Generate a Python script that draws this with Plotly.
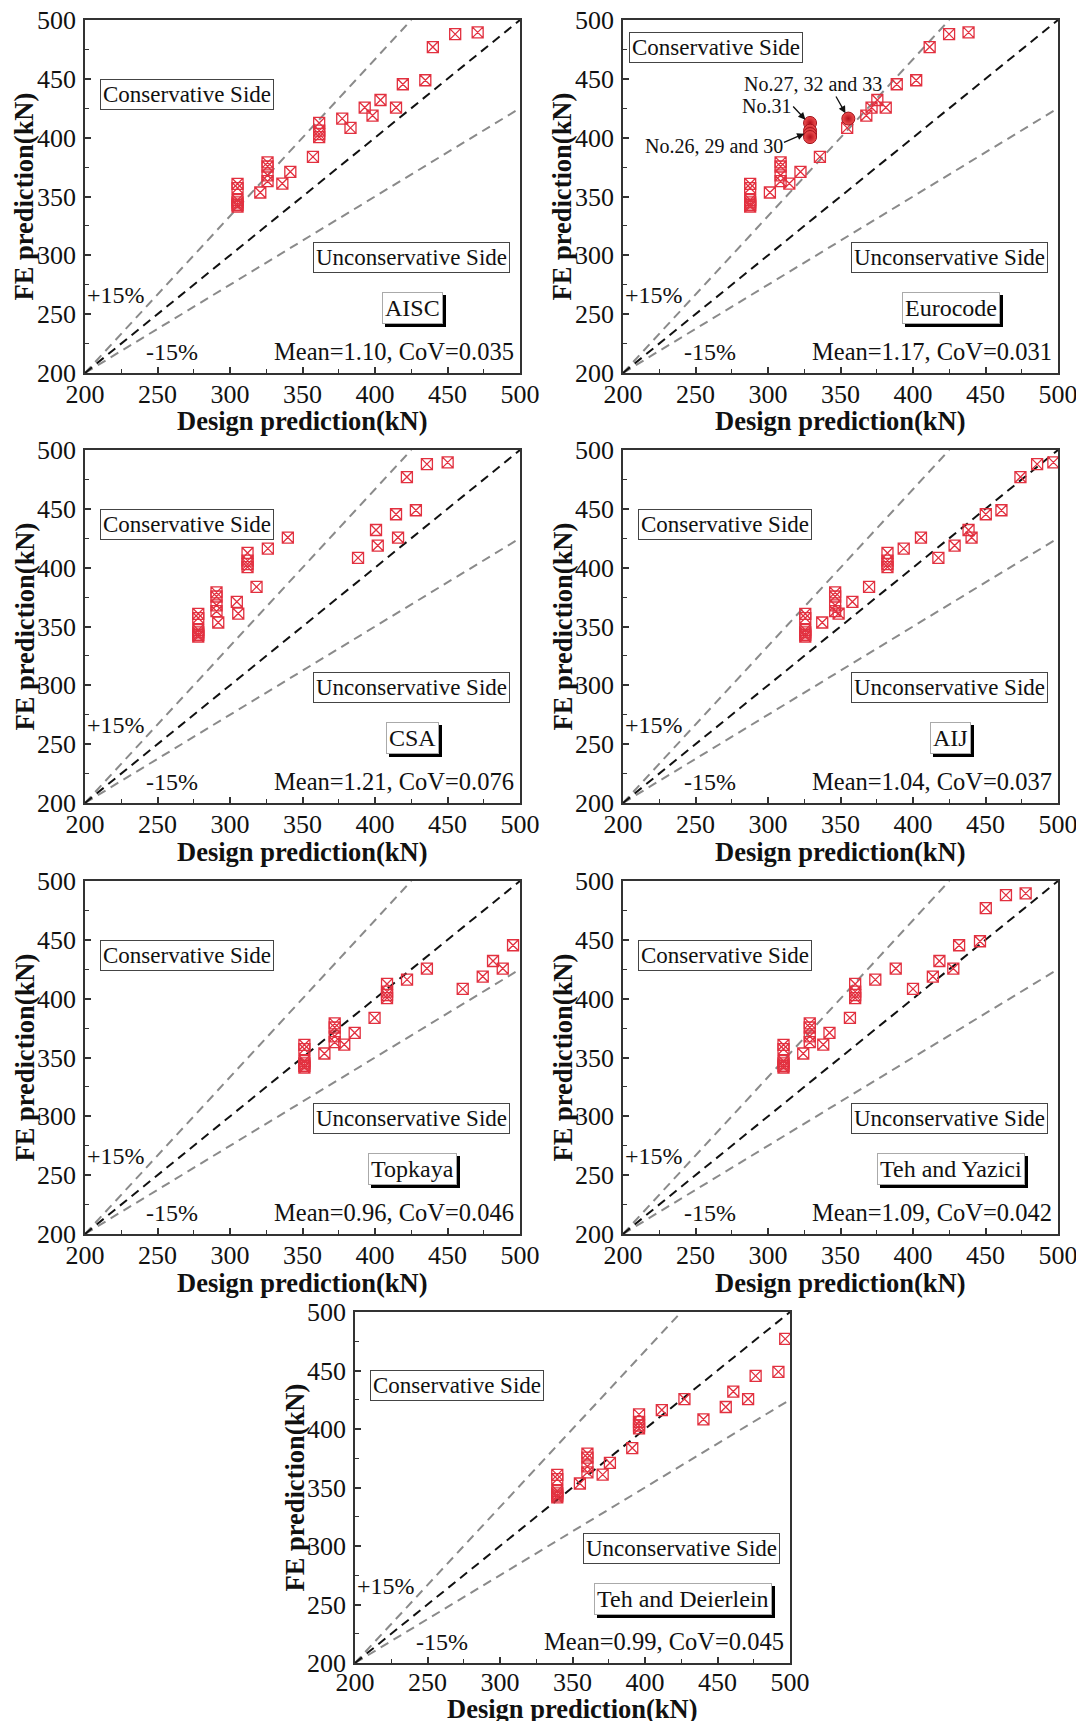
import plotly.graph_objects as go

PAGE_W, PAGE_H = 1084, 1729
BODY = 8  # default page margin around the figure
W, H = PAGE_W - 2 * BODY, PAGE_H - 2 * BODY
FONT = "Liberation Serif"

# ---------------- data ----------------
axis_ticks = [200, 250, 300, 350, 400, 450, 500]
x_title = "Design prediction(kN)"
y_title = "FE prediction(kN)"

# FE prediction (kN) of each specimen (shared by all panels)
fe_prediction = [489.5, 488.0, 477.0, 448.8, 445.4, 432.0, 425.6, 425.6, 418.8, 416.2,
                 408.3, 412.5, 406.0, 403.0, 400.5, 383.7, 371.0, 361.0, 353.4, 379.0,
                 375.5, 368.0, 363.0, 360.8, 357.2, 347.0, 345.0, 343.0, 341.5]

# design predictions (kN) per code (None = outside the plotted range)
aisc = [470.8, 455.3, 439.9, 434.7, 419.2, 403.8, 392.9, 414.5, 398.3, 377.4,
        383.1, 361.5, 361.5, 361.5, 361.5, 357.2, 341.6, 336.1, 320.9, 325.9,
        325.9, 325.9, 325.9, 305.2, 305.2, 305.2, 305.2, 305.2, 305.2]
eurocode = [438.3, 424.9, 411.5, 402.2, 388.8, 375.4, 371.4, 381.2, 367.8, 355.4,
            354.6, 329.0, 329.0, 329.0, 329.0, 335.8, 322.4, 314.7, 301.3, 308.7,
            308.7, 308.7, 308.7, 287.7, 287.7, 287.7, 287.7, 287.7, 287.7]
csa = [450.1, 435.8, 422.0, 428.2, 414.5, 400.7, 339.9, 415.9, 401.9, 326.1,
       388.3, 312.1, 312.1, 312.1, 312.1, 318.3, 304.7, 305.7, 291.9, 290.7,
       290.7, 290.7, 290.7, 278.1, 278.1, 278.1, 278.1, 278.1, 278.1]
aij = [496.8, 485.6, 474.1, 461.0, 450.2, 438.3, 405.5, 440.4, 428.7, 393.6,
       417.5, 382.4, 382.4, 382.4, 382.4, 369.7, 358.2, 348.7, 337.4, 346.3,
       346.3, 346.3, 346.3, 325.7, 325.7, 325.7, 325.7, 325.7, 325.7]
topkaya = [None, None, None, None, 495.2, 481.4, 435.8, 488.1, 474.3, 422.1,
           460.5, 408.3, 408.3, 408.3, 408.3, 399.7, 386.0, 378.8, 365.1, 372.2,
           372.2, 372.2, 372.2, 351.3, 351.3, 351.3, 351.3, 351.3, 351.3]
teh_yazici = [477.7, 464.1, 450.2, 446.2, 431.8, 418.2, 388.1, 427.8, 413.7, 374.0,
              400.0, 360.1, 360.1, 360.1, 360.1, 356.5, 342.4, 338.1, 324.3, 328.8,
              328.8, 328.8, 328.8, 310.7, 310.7, 310.7, 310.7, 310.7, 310.7]
teh_deierlein = [None, None, 496.7, 492.0, 476.3, 460.9, 427.2, 471.1, 455.7, 411.6,
                 440.3, 395.9, 395.9, 395.9, 395.9, 391.2, 375.8, 370.8, 355.1, 360.3,
                 360.3, 360.3, 360.3, 339.5, 339.5, 339.5, 339.5, 339.5, 339.5]

panel_names = ["AISC", "Eurocode", "CSA", "AIJ", "Topkaya", "Teh and Yazici", "Teh and Deierlein"]
panel_stats = ["Mean=1.10, CoV=0.035", "Mean=1.17, CoV=0.031", "Mean=1.21, CoV=0.076",
               "Mean=1.04, CoV=0.037", "Mean=0.96, CoV=0.046", "Mean=1.09, CoV=0.042",
               "Mean=0.99, CoV=0.045"]
panel_design = [aisc, eurocode, csa, aij, topkaya, teh_yazici, teh_deierlein]

# specimens highlighted in the Eurocode panel (No.27/32/33, No.31, No.26/29/30)
highlight_idx = [9, 11, 12, 13, 14]

# reference lines
equal_x, equal_y = [200, 500], [200, 500]
upper_x, upper_y = [200, 425], [200, 500]
lower_x, lower_y = [200, 500], [200, 425]

# ---------------- layout boxes (page px: left, right, top, bottom) ----------------
boxes = [(85, 520, 20, 373), (623, 1058, 20, 373),
         (85, 520, 450, 803), (623, 1058, 450, 803),
         (85, 520, 881, 1234), (623, 1058, 881, 1234),
         (355, 790, 1312, 1663)]


def px_x(px):
    return (px - BODY) / W


def px_y(py):
    return 1 - (py - BODY) / H


RED = "#E2303F"
fig = go.Figure()
annotations = []
layout_axes = {}


def boxed(text, x, y, xa, ya, size, shadow=False, border="#444"):
    out = []
    if shadow:
        out.append(dict(text=text, x=x, y=y, xref=xa, yref=ya, showarrow=False,
                        xanchor="center", yanchor="middle",
                        font=dict(family=FONT, size=size, color="black"),
                        bgcolor="black", bordercolor="black", borderwidth=1, borderpad=2,
                        xshift=3, yshift=-3))
    out.append(dict(text=text, x=x, y=y, xref=xa, yref=ya, showarrow=False,
                    xanchor="center", yanchor="middle",
                    font=dict(family=FONT, size=size, color="#111"),
                    bgcolor="white", bordercolor=border, borderwidth=1, borderpad=2))
    return out


for i, (name, stat, xs, (l, r, t, b)) in enumerate(zip(panel_names, panel_stats, panel_design, boxes), start=1):
    sfx = "" if i == 1 else str(i)
    xa, ya = "x" + sfx, "y" + sfx

    line_style = dict(width=2, dash="9px,6px")
    fig.add_trace(go.Scatter(x=upper_x, y=upper_y, mode="lines", xaxis=xa, yaxis=ya,
                             line=dict(color="#8a8a8a", **line_style), hoverinfo="skip"))
    fig.add_trace(go.Scatter(x=lower_x, y=lower_y, mode="lines", xaxis=xa, yaxis=ya,
                             line=dict(color="#8a8a8a", **line_style), hoverinfo="skip"))
    fig.add_trace(go.Scatter(x=equal_x, y=equal_y, mode="lines", xaxis=xa, yaxis=ya,
                             line=dict(color="#111111", **line_style), hoverinfo="skip"))

    if name == "Eurocode":
        sq_x = [v for k, v in enumerate(xs) if k not in highlight_idx]
        sq_y = [v for k, v in enumerate(fe_prediction) if k not in highlight_idx]
    else:
        sq_x, sq_y = xs, fe_prediction
    fig.add_trace(go.Scatter(x=sq_x, y=sq_y, mode="markers", xaxis=xa, yaxis=ya, cliponaxis=False,
                             marker=dict(symbol="square-x-open", size=11, color=RED,
                                         line=dict(width=1.3, color=RED))))
    if name == "Eurocode":
        fig.add_trace(go.Scatter(x=[xs[k] for k in highlight_idx],
                                 y=[fe_prediction[k] for k in highlight_idx],
                                 mode="markers", xaxis=xa, yaxis=ya, cliponaxis=False,
                                 marker=dict(symbol="circle", size=13, color="#F05050",
                                             gradient=dict(type="radial", color="#B5101C"),
                                             line=dict(width=1, color="#A0101A"))))

    common = dict(range=[200, 500], tickvals=axis_ticks, ticks="inside", ticklen=6, tickwidth=1.5,
                  tickcolor="#333", showline=True, linecolor="#333", linewidth=1.8, mirror=True,
                  showgrid=False, zeroline=False, automargin=False, ticklabeloverflow="allow",
                  tickfont=dict(family=FONT, size=26, color="#111"),
                  minor=dict(ticks="inside", ticklen=4, dtick=25, tick0=200, tickcolor="#333",
                             tickwidth=1.2, showgrid=False))
    layout_axes["xaxis" + sfx] = dict(domain=[px_x(l), px_x(r)], anchor=ya,
                                      ticklabelstandoff=(-5 if i == 7 else -3), **common)
    layout_axes["yaxis" + sfx] = dict(domain=[px_y(b), px_y(t)], anchor=xa,
                                      ticklabelstandoff=2, **common)

    # text boxes
    cons_pos = (264, 477) if name == "Eurocode" else (270, 437)
    annotations += boxed("Conservative Side", cons_pos[0], cons_pos[1], xa, ya, 23)
    annotations += boxed("Unconservative Side", 425, 298, xa, ya, 23)
    annotations += boxed(name, 426, 255, xa, ya, 24, shadow=True, border="#aaa")
    annotations.append(dict(text=stat, x=497.5, y=218, xref=xa, yref=ya, xanchor="right",
                            yanchor="middle", showarrow=False,
                            font=dict(family=FONT, size=24.5, color="#111")))
    annotations.append(dict(text="+15%", x=221.5, y=266, xref=xa, yref=ya, showarrow=False,
                            xanchor="center", yanchor="middle",
                            font=dict(family=FONT, size=24, color="#111")))
    annotations.append(dict(text="-15%", x=260, y=218, xref=xa, yref=ya, showarrow=False,
                            xanchor="center", yanchor="middle",
                            font=dict(family=FONT, size=24, color="#111")))

    # axis titles (the bottom one is nudged up so it stays inside the page)
    title_gap = 45.5 if i == 7 else 48.5
    annotations.append(dict(text="<b>" + x_title + "</b>", x=px_x((l + r) / 2), y=px_y(b + title_gap),
                            xref="paper", yref="paper", showarrow=False,
                            xanchor="center", yanchor="middle",
                            font=dict(family=FONT, size=26.5, color="#111")))
    annotations.append(dict(text="<b>" + y_title + "</b>", x=px_x(l - 61), y=px_y((t + b) / 2),
                            xref="paper", yref="paper", showarrow=False, textangle=-90,
                            xanchor="center", yanchor="middle",
                            font=dict(family=FONT, size=26.5, color="#111")))

    if name == "Eurocode":
        for txt, tx, ty, hx, hy, px, py in [
            ("No.27, 32 and 33", 331, 446, 353.4, 420.8, 346.3, 436.3),
            ("No.31", 299, 427, 325.8, 415.3, 316.4, 427.8),
            ("No.26, 29 and 30", 263, 392.5, 325.0, 403.4, 310.0, 395.5),
        ]:
            annotations.append(dict(text=txt, x=tx, y=ty, xref=xa, yref=ya, showarrow=False,
                                    xanchor="center", yanchor="middle",
                                    font=dict(family=FONT, size=20, color="#111")))
            annotations.append(dict(text="", x=hx, y=hy, ax=px, ay=py, xref=xa, yref=ya,
                                    axref=xa, ayref=ya, showarrow=True, arrowhead=2,
                                    arrowsize=1.1, arrowwidth=1.3, arrowcolor="#111", standoff=0))

fig.update_layout(template="none", width=W, height=H,
                  margin=dict(l=0, r=0, t=0, b=0, autoexpand=False),
                  paper_bgcolor="white", plot_bgcolor="white", showlegend=False,
                  font=dict(family=FONT, color="#111"),
                  annotations=annotations, **layout_axes)

fig.write_html("out.html")
